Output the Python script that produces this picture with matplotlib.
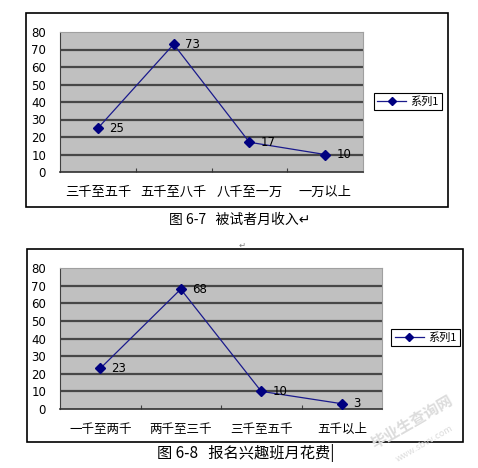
import matplotlib
matplotlib.use('Agg')
import matplotlib.pyplot as plt
from matplotlib.patches import Rectangle

plt.rcParams['font.family'] = ['Noto Sans CJK SC', 'DejaVu Sans']

W, H = 478, 468

# chart 6-7
cats1 = ['三千至五千', '五千至八千', '八千至一万', '一万以上']
vals1 = [25, 73, 17, 10]
# chart 6-8
cats2 = ['一千至两千', '两千至三千', '三千至五千', '五千以上']
vals2 = [23, 68, 10, 3]
yticks = [0, 10, 20, 30, 40, 50, 60, 70, 80]
series_name = '系列1'

fig = plt.figure(figsize=(W / 100, H / 100), dpi=100)


def box(x0, y0, x1, y1):
    # pixel box (top-left origin) -> figure fraction
    return [x0 / W, 1 - y1 / H, (x1 - x0) / W, (y1 - y0) / H]


def frame(x0, y0, x1, y1):
    b = box(x0, y0, x1, y1)
    fig.patches.append(Rectangle((b[0], b[1]), b[2], b[3], transform=fig.transFigure,
                                 fill=False, edgecolor='black', linewidth=1.2))


def chart(pa, cats, vals, leg, xlab_fs):
    ax = fig.add_axes(box(*pa))
    ax.set_facecolor('#c0c0c0')
    x = [i + 0.5 for i in range(len(vals))]
    for t in yticks[1:-1]:
        ax.axhline(t, color='#474747', linewidth=1.6, zorder=1)
    ax.plot(x, vals, '-', color='#1a1a8c', linewidth=0.9, marker='D', markersize=5,
            markerfacecolor='#000080', markeredgecolor='#000080', label=series_name, zorder=3)
    for xi, v in zip(x, vals):
        ax.annotate(str(v), (xi, v), xytext=(8, 0), textcoords='offset points',
                    va='center', ha='left', fontsize=8.5, family='DejaVu Sans')
    ax.set_xlim(0, len(vals))
    ax.set_ylim(0, 80)
    ax.set_yticks(yticks)
    ax.set_yticklabels([str(t) for t in yticks], fontsize=8.5, family='DejaVu Sans')
    ax.tick_params(axis='y', length=0, pad=10)
    ax.set_xticks(x)
    ax.set_xticklabels(cats, fontsize=xlab_fs)
    ax.tick_params(axis='x', which='major', length=0, pad=10)
    ax.set_xticks(range(1, len(vals)), minor=True)
    ax.tick_params(axis='x', which='minor', direction='in', length=3, width=0.8, color='#404040')
    for s in ['top', 'right']:
        ax.spines[s].set_color('#a0a0a0')
        ax.spines[s].set_linewidth(0.8)
    ax.spines['left'].set_color('#404040')
    ax.spines['bottom'].set_color('#303030')
    ax.spines['bottom'].set_linewidth(1.2)
    lb = box(*leg)
    lg = ax.legend(loc='center', bbox_to_anchor=(lb[0] + lb[2] / 2, lb[1] + lb[3] / 2),
                   bbox_transform=fig.transFigure, fontsize=8, fancybox=False,
                   edgecolor='black', framealpha=1, borderpad=0.3, handlelength=2.6,
                   handletextpad=0.4, markerscale=0.8)
    lg.get_frame().set_linewidth(0.8)
    return ax


frame(26, 13, 448, 207)
chart((60, 32, 363, 172), cats1, vals1, (373, 93, 443, 110), 9.5)
fig.text(240 / W, 1 - 220 / H, '图 6-7   被试者月收入↵', ha='center', va='center', fontsize=10)

fig.text(242 / W, 1 - 245 / H, '↵', ha='center', va='center', fontsize=6, color='#808080')

frame(27, 249, 463, 442)
chart((60, 268, 382, 409), cats2, vals2, (392, 329, 459, 346), 9)
fig.text(157 / W, 1 - 453 / H, '图 6-8   报名兴趣班月花费|', ha='left', va='center', fontsize=11)

# watermark
fig.text(412 / W, 1 - 422 / H, '毕业生查询网', ha='center', va='center', rotation=30,
         fontsize=11, color='#dcdcdc', fontweight='bold')
fig.text(425 / W, 1 - 444 / H, 'www.sbvv.com', ha='center', va='center', rotation=30,
         fontsize=6.5, color='#dcdcdc')

fig.savefig('out.png', dpi=100, facecolor='white')
